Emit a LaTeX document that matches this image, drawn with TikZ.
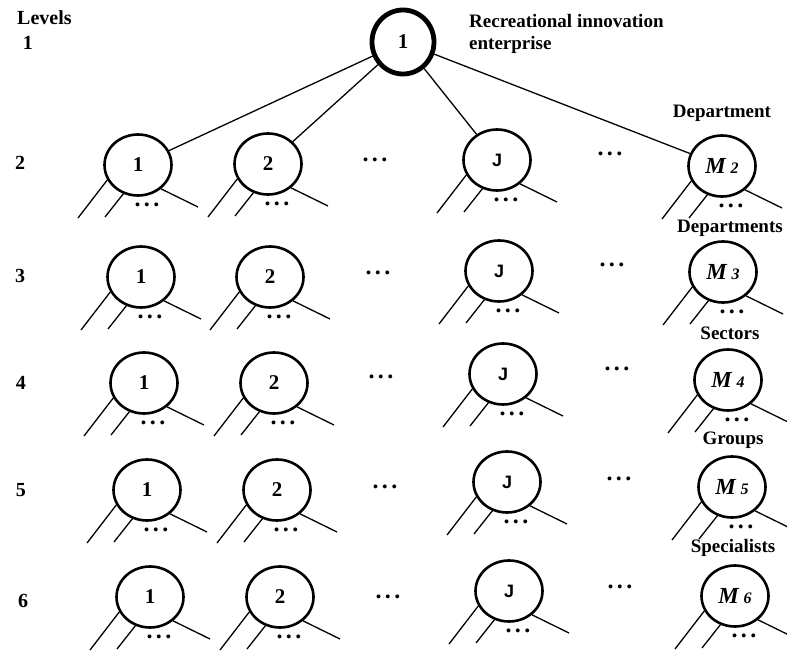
\documentclass[tikz,border=0pt]{standalone}
\usepackage{fontspec}
\setmainfont{Liberation Serif}
\newfontfamily\sansbold{Liberation Sans}
\usetikzlibrary{shapes.geometric}

% three spaced bold dots
\newcommand\threedots{{\bfseries .\kern3.5pt.\kern3.5pt.}}
% "M" with an italic level index
\newcommand\mlabel[1]{{\fontsize{23}{23}\selectfont\bfseries\itshape M}\kern5pt{\fontsize{16}{16}\selectfont\itshape #1}}

\begin{document}
\begin{tikzpicture}[x=1pt,y=-1pt,
  unit/.style={draw, ellipse, line width=2.6pt, minimum width=67pt, minimum height=61pt,
               inner sep=0pt, font=\fontsize{21}{22}\selectfont\bfseries},
  topunit/.style={unit, line width=4.8pt, minimum width=62pt, minimum height=64pt},
  link/.style={line width=1.3pt},
  lbl/.style={font=\fontsize{19}{20}\selectfont\bfseries, inner sep=0pt},
  lvl/.style={font=\fontsize{20}{20}\selectfont\bfseries, inner sep=0pt},
  dots/.style={font=\fontsize{24}{24}\selectfont, inner sep=0pt},
]
\useasboundingbox (0,0) rectangle (787,652);

% a unit with its three outgoing branches and the dots below it
\newcommand\branchnode[4]{%
  \node[unit] (#1) at (#2,#3) {#4};
  \draw[link] (#1.206) -- ([shift={(-60,53)}]#1.center);
  \draw[link] (#1.243) -- ([shift={(-33,52)}]#1.center);
  \draw[link] (#1.314) -- ([shift={(60,42)}]#1.center);
  \node[dots] (#1-d) at ([shift={(9,40)}]#1.center) {\threedots};
}
\newcommand\jlabel{{\sansbold\fontsize{18}{18}\selectfont\bfseries J}}

% level numbers
\node[lvl, anchor=west] (levels) at (17,18) {Levels};
\node[lvl] (lv1) at (28,43) {1};
\node[lvl] (lv2) at (20,163) {2};
\node[lvl] (lv3) at (20,276) {3};
\node[lvl] (lv4) at (21,383) {4};
\node[lvl] (lv5) at (21,490) {5};
\node[lvl] (lv6) at (23,601) {6};

% level 1: the enterprise
\node[topunit] (top) at (403,42) {1};
\node[lbl, anchor=west] (ent1) at (469,21) {Recreational innovation};
\node[lbl, anchor=west] (ent2) at (469,45) {enterprise};

% level 2
\branchnode{a1}{138}{165}{1}
\branchnode{a2}{268}{164}{2}
\branchnode{aj}{497}{160}{\jlabel}
\branchnode{am}{722}{166}{\mlabel{2}}
\node[dots] (ad1) at (375,160) {\threedots};
\node[dots] (ad2) at (610,154) {\threedots};
\foreach \n in {a1,a2,aj,am} \draw[link] (top) -- (\n);

% level 3
\branchnode{b1}{141}{277}{1}
\branchnode{b2}{270}{277}{2}
\branchnode{bj}{499}{271}{\jlabel}
\branchnode{bm}{723}{272}{\mlabel{3}}
\node[dots] (bd1) at (378,273) {\threedots};
\node[dots] (bd2) at (612,265) {\threedots};

% level 4
\branchnode{c1}{144}{383}{1}
\branchnode{c2}{274}{383}{2}
\branchnode{cj}{503}{374}{\jlabel}
\branchnode{cm}{728}{380}{\mlabel{4}}
\node[dots] (cd1) at (381,377) {\threedots};
\node[dots] (cd2) at (617,369) {\threedots};

% level 5
\branchnode{d1}{147}{490}{1}
\branchnode{d2}{277}{490}{2}
\branchnode{dj}{507}{482}{\jlabel}
\branchnode{dm}{732}{487}{\mlabel{5}}
\node[dots] (dd1) at (385,487) {\threedots};
\node[dots] (dd2) at (619,479) {\threedots};

% level 6
\branchnode{e1}{150}{597}{1}
\branchnode{e2}{280}{597}{2}
\branchnode{ej}{509}{591}{\jlabel}
\branchnode{em}{735}{596}{\mlabel{6}}
\node[dots] (ed1) at (388,597) {\threedots};
\node[dots] (ed2) at (620,587) {\threedots};

% unit names on the right
\node[lbl] (nm2) at (722,113) {Department};
\node[lbl] (nm3) at (730,228) {Departments};
\node[lbl] (nm4) at (730,333) {Sectors};
\node[lbl] (nm5) at (733,440) {Groups};
\node[lbl] (nm6) at (733,548) {Specialists};
\end{tikzpicture}
\end{document}
